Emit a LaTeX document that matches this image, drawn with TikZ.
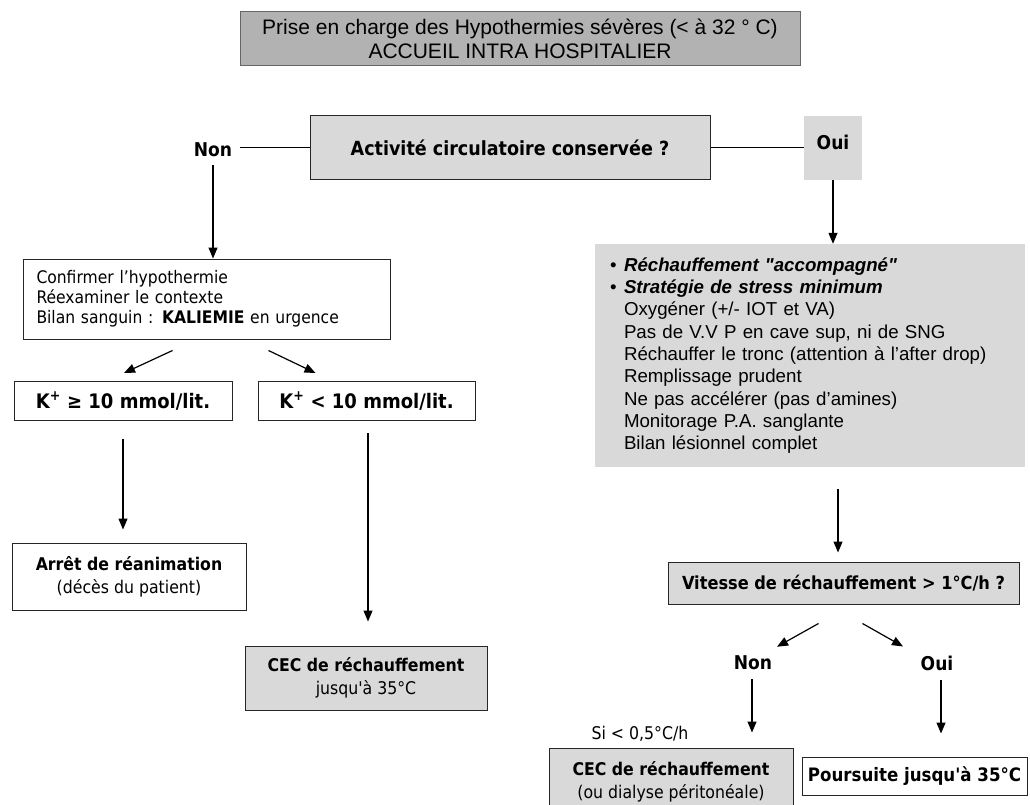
\documentclass[tikz,border=0pt]{standalone}
\usepackage{fontspec}
\setmainfont{Liberation Sans}[Ligatures = TeXOff]
\newfontfamily\tahoma{DejaVu Sans Condensed}
\usetikzlibrary{arrows.meta}

\definecolor{titlegray}{gray}{0.70}
\definecolor{boxgray}{gray}{0.85}
\definecolor{edgegray}{gray}{0.40}

\tikzset{
	box/.style = {draw = black!85, line width = 1pt, inner sep = 0pt, align = center,
		font = \tahoma\fontsize{17.5}{23}\selectfont},
	graybox/.style = {box, fill = boxgray},
	answer/.style = {inner sep = 0pt, font = \tahoma\bfseries\fontsize{19}{22}\selectfont},
	arr/.style = {-{Triangle[length = 11pt, width = 9pt]}, line width = 1.2pt},
	link/.style = {line width = 1pt}
}

\begin{document}
\begin{tikzpicture}[x = 1pt, y = -1pt]
	\useasboundingbox (0,0) rectangle (1030,805);
	\clip (0,0) rectangle (1030,805);

	\node [box, fill = titlegray, draw = edgegray, minimum width = 560pt, minimum height = 54pt,
		font = \fontsize{21}{24}\selectfont] (title) at (520,39)
		{Prise en charge des Hypothermies sévères (< à 32 ° C)\\ACCUEIL INTRA HOSPITALIER};

	% premiere question
	\node [graybox, minimum width = 400pt, minimum height = 64pt] (circ) at (510,148)
		{\bfseries\fontsize{19.5}{22}\selectfont Activité circulatoire conservée ?};
	\node [answer] (non) at (213,150) {Non};
	\node [fill = boxgray, minimum width = 58pt, minimum height = 64pt, inner sep = 0pt] (oui) at (833,148) {};
	\node [answer] at (833,142) {Oui};
	\draw [link, shorten <= 8pt] (non.east |- circ.west) -- (circ.west);
	\draw [link] (circ.east) -- (oui.west);

	% branche Non
	\node [box, minimum width = 367pt, minimum height = 80pt, text width = 340pt, align = left,
		font = \tahoma\fontsize{17.3}{20}\selectfont] (conf) at (206.5,299)
		{Confirmer l’hypothermie\\Réexaminer le contexte\\Bilan sanguin : \textbf{KALIEMIE} en urgence};
	\draw [arr, shorten <= 8pt] (non.south) -- (non.south |- conf.north);

	\node [box, minimum width = 218pt, minimum height = 39pt, font = \tahoma\bfseries\fontsize{20}{24}\selectfont] (kge) at (123,401)
		{K\textsuperscript{+} ≥ 10 mmol/lit.};
	\node [box, minimum width = 217pt, minimum height = 39pt, font = \tahoma\bfseries\fontsize{20}{24}\selectfont] (klt) at (366.5,401)
		{K\textsuperscript{+} < 10 mmol/lit.};
	\draw [arr] ([xshift = -34pt, yshift = -11pt] conf.south) -- ([xshift = 1pt, yshift = 8pt] kge.north);
	\draw [arr] ([xshift = 62pt, yshift = -11pt] conf.south) -- ([xshift = -51pt, yshift = 8pt] klt.north);

	\node [box, minimum width = 234pt, minimum height = 67pt] (arret) at (129,576.5)
		{\bfseries Arrêt de réanimation\\(décès du patient)};
	\node [graybox, minimum width = 242pt, minimum height = 64pt] (cecA) at (366,678)
		{\bfseries CEC de réchauffement\\jusqu'à 35°C};
	\draw [arr, shorten <= 18pt, shorten >= 13pt] (kge.south) -- (kge.south |- arret.north);
	\draw [arr, shorten <= 12pt, shorten >= 24pt] ([xshift = 1.5pt] klt.south) -- ([xshift = 1.5pt] klt.south |- cecA.north);

	% branche Oui
	\node [fill = boxgray, minimum width = 430pt, minimum height = 223pt, inner xsep = 15pt, inner ysep = 0pt,
		text width = 400pt, align = left, font = \fontsize{18.7}{22.3}\selectfont] (strat) at (810,355.5)
		{\makebox[14pt][l]{\textbullet}\textbf{\textit{Réchauffement "accompagné"}}\\
		\makebox[14pt][l]{\textbullet}\textbf{\textit{Stratégie de stress minimum}}\\
		\hspace*{14pt}Oxygéner (+/- IOT et VA)\\
		\hspace*{14pt}Pas de V.V P en cave sup, ni de SNG\\
		\hspace*{14pt}Réchauffer le tronc (attention à l’after drop)\\
		\hspace*{14pt}Remplissage prudent\\
		\hspace*{14pt}Ne pas accélérer (pas d’amines)\\
		\hspace*{14pt}Monitorage P.A. sanglante\\
		\hspace*{14pt}Bilan lésionnel complet};
	\draw [arr] (oui.south) -- (oui.south |- strat.north);

	\node [graybox, minimum width = 351pt, minimum height = 42pt] (vit) at (843.5,583)
		{\bfseries\fontsize{18}{20}\selectfont Vitesse de réchauffement > 1°C/h ?};
	\draw [arr, shorten <= 22pt, shorten >= 9pt] ([xshift = -5.5pt] vit.north |- strat.south) -- ([xshift = -5.5pt] vit.north);

	\node [answer] (nonB) at (753,663) {Non};
	\node [answer] (ouiB) at (937,663) {Oui};
	\draw [arr] ([xshift = -25pt, yshift = -19pt] vit.south) -- ([xshift = 24pt, yshift = 9pt] nonB.north);
	\draw [arr] ([xshift = 19pt, yshift = -19pt] vit.south) -- ([xshift = -34pt, yshift = 9pt] ouiB.north);

	\node [graybox, minimum width = 244pt, minimum height = 67pt] (cecB) at (671,781.5)
		{\bfseries CEC de réchauffement\\(ou dialyse péritonéale)};
	\node [box, minimum width = 225pt, minimum height = 38pt] (pours) at (914.5,776)
		{\bfseries\fontsize{18.5}{22}\selectfont Poursuite jusqu'à 35°C};
	\node [inner sep = 0pt, font = \tahoma\fontsize{17.5}{20}\selectfont] (si) at (640,734) {Si < 0,5°C/h};
	\draw [arr, shorten <= 9pt, shorten >= 15pt] ([xshift = -1pt] nonB.south) -- ([xshift = -1pt] nonB.south |- cecB.north);
	\draw [arr, shorten <= 9pt, shorten >= 23pt] ([xshift = 4pt] ouiB.south) -- ([xshift = 4pt] ouiB.south |- pours.north);
\end{tikzpicture}
\end{document}
